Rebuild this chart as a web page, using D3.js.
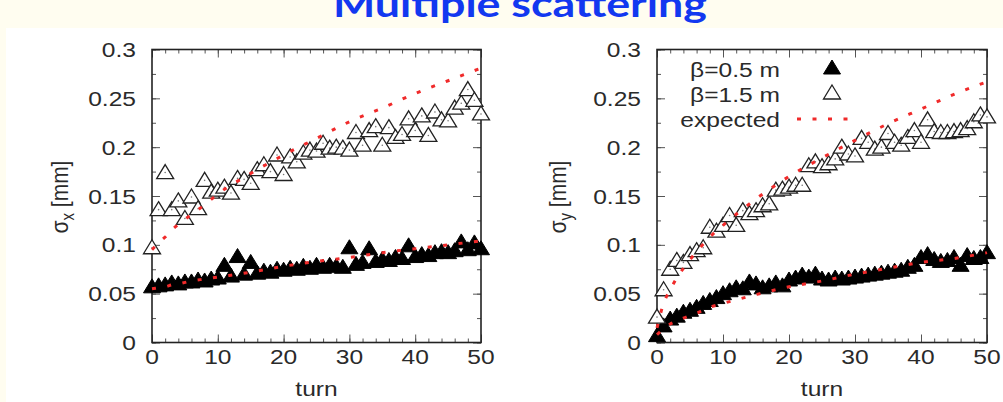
<!DOCTYPE html>
<html>
<head>
<meta charset="utf-8">
<script src="https://cdn.jsdelivr.net/npm/d3@7"></script>
<style>
  html, body { margin: 0; padding: 0; background: #fffdf0; }
  svg { display: block; }
</style>
</head>
<body>
<svg id="chart" width="1003" height="402"></svg>
<script>
// ---- data ---------------------------------------------------------------
const titleText = "Multiple scattering";
const turns = d3.range(0, 51);

// horizontal beam size, beta = 0.5 m and beta = 1.5 m  [mm]
const sigmaX_beta05 = [0.057, 0.058, 0.059, 0.061, 0.060, 0.062, 0.062, 0.064, 0.063, 0.065,
  0.066, 0.079, 0.068, 0.088, 0.070, 0.082, 0.071, 0.073, 0.072, 0.075,
  0.074, 0.076, 0.075, 0.078, 0.076, 0.079, 0.077, 0.079, 0.078, 0.077,
  0.097, 0.080, 0.082, 0.096, 0.083, 0.085, 0.084, 0.087, 0.086, 0.099,
  0.088, 0.090, 0.089, 0.092, 0.093, 0.092, 0.094, 0.103, 0.095, 0.102, 0.096];
const sigmaX_beta15 = [0.097, 0.136, 0.174, 0.136, 0.145, 0.127, 0.149, 0.137, 0.166, 0.154,
  0.156, 0.159, 0.153, 0.168, 0.167, 0.163, 0.177, 0.182, 0.175, 0.192,
  0.172, 0.190, 0.185, 0.194, 0.197, 0.196, 0.204, 0.199, 0.200, 0.199,
  0.197, 0.215, 0.202, 0.217, 0.221, 0.202, 0.220, 0.210, 0.213, 0.229,
  0.217, 0.232, 0.212, 0.236, 0.228, 0.227, 0.240, 0.245, 0.259, 0.248, 0.234];

// vertical beam size  [mm]
const sigmaY_beta05 = [0.007, 0.017, 0.024, 0.027, 0.031, 0.033, 0.036, 0.040, 0.043, 0.046,
  0.050, 0.053, 0.056, 0.055, 0.062, 0.060, 0.056, 0.058, 0.061, 0.058,
  0.064, 0.066, 0.069, 0.067, 0.070, 0.065, 0.064, 0.066, 0.065, 0.066,
  0.067, 0.068, 0.069, 0.070, 0.071, 0.072, 0.073, 0.074, 0.077, 0.079,
  0.087, 0.090, 0.085, 0.083, 0.084, 0.087, 0.079, 0.089, 0.086, 0.087, 0.092];
const sigmaY_beta15 = [0.026, 0.054, 0.075, 0.084, 0.082, 0.090, 0.094, 0.097, 0.118, 0.114,
  0.120, 0.130, 0.120, 0.135, 0.132, 0.135, 0.140, 0.142, 0.156, 0.157,
  0.159, 0.161, 0.161, 0.181, 0.185, 0.180, 0.183, 0.188, 0.200, 0.193,
  0.191, 0.209, 0.205, 0.198, 0.200, 0.214, 0.205, 0.202, 0.210, 0.217,
  0.205, 0.228, 0.216, 0.215, 0.215, 0.216, 0.217, 0.219, 0.226, 0.233, 0.231];

// expected growth curves
const expectedTurns = [0, 1, 2, 3, 4, 6, 8, 10, 15, 20, 25, 30, 35, 40, 45, 50];
const expectedX_beta05 = [0.055, 0.056, 0.057, 0.059, 0.060, 0.063, 0.065, 0.067, 0.072, 0.078, 0.083, 0.087, 0.092, 0.096, 0.100, 0.104];
const expectedX_beta15 = [0.095, 0.102, 0.108, 0.115, 0.121, 0.131, 0.141, 0.152, 0.173, 0.192, 0.209, 0.226, 0.240, 0.255, 0.268, 0.281];
const expectedY_beta05 = [0.008, 0.014, 0.019, 0.022, 0.025, 0.030, 0.036, 0.040, 0.049, 0.057, 0.063, 0.070, 0.076, 0.082, 0.086, 0.092];
const expectedY_beta15 = [0.015, 0.040, 0.054, 0.066, 0.076, 0.093, 0.108, 0.120, 0.147, 0.170, 0.189, 0.207, 0.224, 0.239, 0.254, 0.267];

// axes
const xTickValues = [0, 10, 20, 30, 40, 50];
const xMinorTicks = d3.range(0, 51, 2);
const yTickValues = [0, 0.05, 0.1, 0.15, 0.2, 0.25, 0.3];
const yTickLabels = ["0", "0.05", "0.1", "0.15", "0.2", "0.25", "0.3"];
const yMinorTicks = d3.range(0, 13).map(i => +(i * 0.025).toFixed(3));
const xAxisTitle = "turn";
const legendLabels = ["\u03b2=0.5 m", "\u03b2=1.5 m", "expected"];

// ---- drawing ------------------------------------------------------------
const svg = d3.select("#chart");
const FONT = "'Liberation Sans', Arial, Helvetica, sans-serif";
const STRETCH = 1.17;
const TEXT_COLOR = "#2a2a2a";

svg.append("rect").attr("width", 1003).attr("height", 402).attr("fill", "#fffdf0");
svg.append("rect").attr("x", 6).attr("y", 28).attr("width", 997).attr("height", 374).attr("fill", "#ffffff");

// slide heading, partly above the top edge
svg.append("text")
  .attr("x", 520).attr("y", 17)
  .attr("text-anchor", "middle")
  .attr("font-family", "Lato, 'Open Sans', sans-serif")
  .attr("font-weight", "bold")
  .attr("font-size", 36)
  .attr("fill", "#1238f0")
  .attr("textLength", 374)
  .attr("lengthAdjust", "spacingAndGlyphs")
  .text(titleText);

// text widened horizontally like the rest of the figure
function label(parent, x, y, txt, anchor, dy) {
  return parent.append("text")
    .attr("transform", `translate(${x},${y}) scale(${STRETCH},1)`)
    .attr("text-anchor", anchor)
    .attr("dy", dy)
    .attr("font-family", FONT)
    .attr("font-size", 21)
    .attr("fill", TEXT_COLOR)
    .text(txt);
}

const triW = 17, triUp = 8, triDown = 6;
function triPath(cx, cy) {
  return `M${cx},${cy - triUp}L${cx + triW / 2},${cy + triDown}L${cx - triW / 2},${cy + triDown}Z`;
}

function drawPanel(p) {
  const x = d3.scaleLinear().domain([0, 50]).range([p.left, p.right]);
  const y = d3.scaleLinear().domain([0, 0.3]).range([p.bottom, p.top]);
  const g = svg.append("g");

  // ticks on all four sides, pointing inward
  const tickStyle = sel => {
    sel.select(".domain").remove();
    sel.selectAll("line").attr("stroke", "#555").attr("stroke-width", 1);
    sel.selectAll("text").remove();
  };
  const sides = [
    [d3.axisBottom, x, `translate(0,${p.bottom})`, xTickValues, xMinorTicks],
    [d3.axisTop, x, `translate(0,${p.top})`, xTickValues, xMinorTicks],
    [d3.axisLeft, y, `translate(${p.left},0)`, yTickValues, yMinorTicks],
    [d3.axisRight, y, `translate(${p.right},0)`, yTickValues, yMinorTicks]
  ];
  sides.forEach(([axisFn, scale, tr, major, minor]) => {
    g.append("g").attr("transform", tr)
      .call(axisFn(scale).tickValues(minor).tickSize(-4).tickSizeOuter(0).tickFormat(""))
      .call(tickStyle);
    g.append("g").attr("transform", tr)
      .call(axisFn(scale).tickValues(major).tickSize(-8).tickSizeOuter(0).tickFormat(""))
      .call(tickStyle);
  });

  // frame
  g.append("rect")
    .attr("x", p.left).attr("y", p.top)
    .attr("width", p.right - p.left).attr("height", p.bottom - p.top)
    .attr("fill", "none").attr("stroke", "#222").attr("stroke-width", 1.6);

  // tick labels
  xTickValues.forEach(v => label(g, x(v), 364, String(v), "middle", 0));
  yTickValues.forEach((v, i) => label(g, p.left - 16, y(v), yTickLabels[i], "end", "0.36em"));
  label(g, (p.left + p.right) / 2, 396, xAxisTitle, "middle", 0);

  // y title: sigma with subscript, rotated
  const yt = g.append("text")
    .attr("transform", `translate(${p.yTitleX},197) rotate(-90) scale(1,${STRETCH})`)
    .attr("text-anchor", "middle")
    .attr("font-family", FONT)
    .attr("font-size", 21)
    .attr("fill", TEXT_COLOR);
  yt.append("tspan").text("\u03c3");
  yt.append("tspan").attr("dy", 5).attr("font-size", 15).text(p.sub);
  yt.append("tspan").attr("dy", -5).text(" [mm]");

  // beta = 0.5 m : filled triangles
  g.append("g").selectAll("path")
    .data(turns)
    .join("path")
    .attr("d", t => triPath(x(t), y(p.low[t])))
    .attr("fill", "#000").attr("stroke", "#000").attr("stroke-width", 1);

  // beta = 1.5 m : open triangles
  const open = g.append("g").selectAll("g")
    .data(turns)
    .join("g");
  open.append("path")
    .attr("d", t => triPath(x(t), y(p.high[t])))
    .attr("fill", "#fff").attr("stroke", "#222").attr("stroke-width", 1.3);
  open.append("circle")
    .attr("cx", t => x(t)).attr("cy", t => y(p.high[t]))
    .attr("r", 0.8).attr("fill", "#777");

  // expected curves, red dotted
  const line = d3.line()
    .x(d => x(d[0])).y(d => y(d[1]))
    .curve(d3.curveMonotoneX);
  [p.expLow, p.expHigh].forEach(vals => {
    g.append("path")
      .attr("d", line(expectedTurns.map((t, i) => [t, vals[i]])))
      .attr("fill", "none")
      .attr("stroke", "#f02a2a")
      .attr("stroke-width", 3)
      .attr("stroke-dasharray", "4 11.5");
  });
  return { x, y, g };
}

drawPanel({
  left: 152, right: 481, top: 49.5, bottom: 342.5, yTitleX: 68, sub: "x",
  low: sigmaX_beta05, high: sigmaX_beta15,
  expLow: expectedX_beta05, expHigh: expectedX_beta15
});
const right = drawPanel({
  left: 657, right: 987, top: 49.5, bottom: 342.5, yTitleX: 566, sub: "y",
  low: sigmaY_beta05, high: sigmaY_beta15,
  expLow: expectedY_beta05, expHigh: expectedY_beta15
});

// legend
const lg = right.g.append("g");
const legendY = [69, 94, 119];
legendLabels.forEach((txt, i) => label(lg, 780, legendY[i], txt, "end", "0.36em"));
lg.append("path").attr("d", triPath(832, legendY[0] - 1))
  .attr("fill", "#000").attr("stroke", "#000").attr("stroke-width", 1);
lg.append("path").attr("d", triPath(832, legendY[1] - 1))
  .attr("fill", "#fff").attr("stroke", "#222").attr("stroke-width", 1.3);
lg.append("line")
  .attr("x1", 797).attr("x2", 856).attr("y1", legendY[2]).attr("y2", legendY[2])
  .attr("stroke", "#f02a2a").attr("stroke-width", 3).attr("stroke-dasharray", "4 11.5");
</script>
</body>
</html>
